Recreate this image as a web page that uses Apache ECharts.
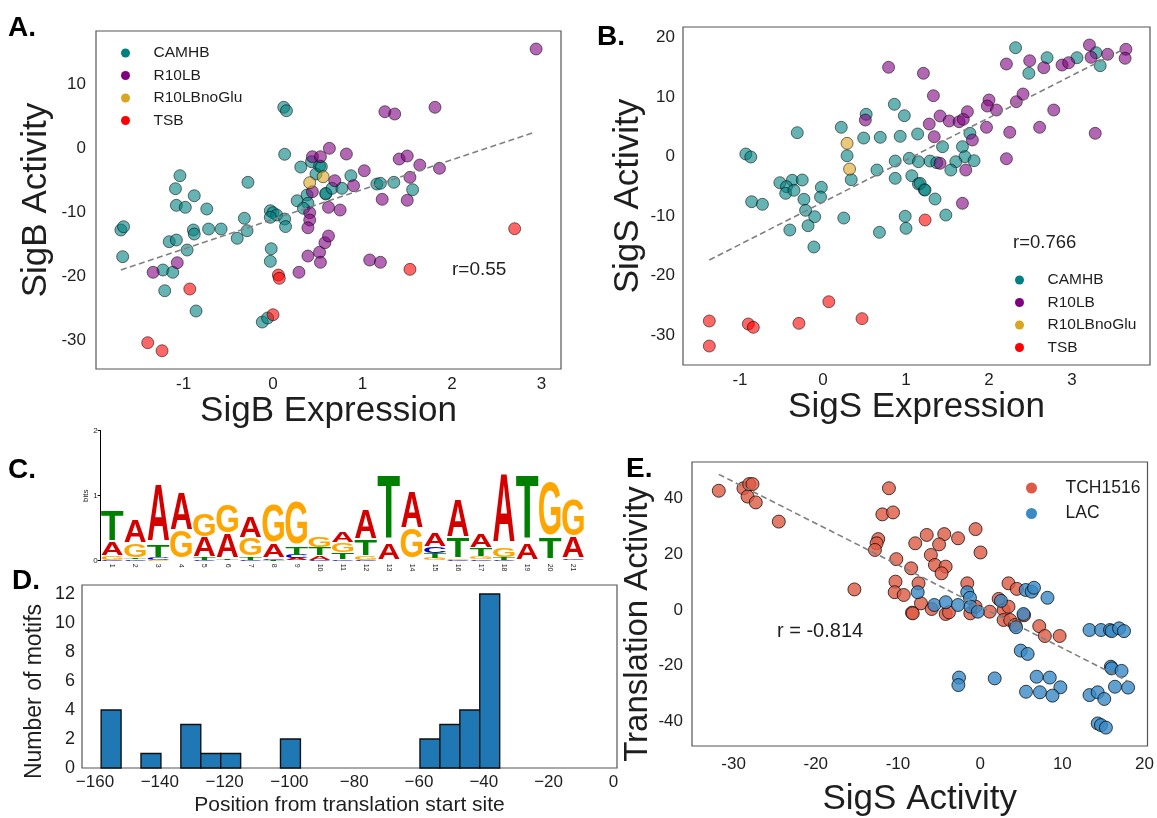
<!DOCTYPE html>
<html>
<head>
<meta charset="utf-8">
<script src="https://cdn.jsdelivr.net/npm/echarts@6/dist/echarts.min.js"></script>
<style>html,body{margin:0;padding:0;background:#fff}#c{width:1157px;height:818px}</style>
</head>
<body>
<div id="c"></div>
<script>
// ---------- Panel A: SigB Expression vs SigB Activity ----------
const A_CAMHB = [[0.12,6.44],[0.15,5.9],[0.13,-0.9],[0.31,-2.9],[0.43,-2.06],[0.52,-2.73],[0.48,-3.98],[-1.04,-4.25],[-1.09,-6.28],[-0.28,-5.28],[-0.88,-7.38],[-1.08,-8.88],[-0.98,-9.19],[-0.74,-9.45],[-0.03,-9.72],[0.0,-10.03],[0.04,-10.39],[-0.03,-10.75],[0.13,-11.02],[0.14,-12.2],[-0.32,-10.9],[-0.29,-12.84],[0.27,-8.16],[0.38,-7.27],[0.39,-8.56],[0.34,-9.34],[0.59,-7.11],[-1.70,-12.73],[-1.67,-12.22],[-1.68,-16.9],[-0.89,-12.73],[-0.88,-13.36],[-0.72,-12.58],[-0.58,-12.58],[-0.40,-14.03],[-1.16,-14.56],[-1.08,-14.3],[-0.96,-15.86],[-0.02,-15.66],[-0.03,-17.63],[-1.23,-18.98],[-1.12,-19.34],[-1.21,-22.22],[-0.86,-25.39],[-0.12,-27.11],[-0.06,-26.48],[0.87,-4.25],[0.54,-2.84],[0.59,-7.0],[0.66,-6.22],[0.77,-6.22],[1.16,-5.55],[1.20,-5.44],[1.35,-5.28],[1.56,-6.44]];
const A_R10LB = [[-1.34,-19.34],[-1.07,-17.84],[0.29,-19.34],[0.39,-16.8],[0.52,-16.2],[0.53,-17.78],[0.44,-1.28],[0.53,-1.28],[0.63,0.03],[0.41,-10.03],[0.41,-11.17],[0.39,-12.38],[0.62,-9.19],[0.58,-14.72],[0.62,-13.67],[0.44,-6.75],[2.94,15.55],[1.25,5.75],[1.36,5.39],[1.81,6.44],[0.82,-0.86],[1.41,-1.64],[1.50,-1.17],[1.64,-2.58],[1.86,-3.09],[1.02,-3.47],[0.69,-5.03],[0.90,-5.81],[1.53,-4.5],[1.22,-7.94],[1.50,-8.09],[0.75,-9.61],[1.08,-17.42],[1.20,-17.78]];
const A_R10LBnoGlu = [[0.41,-5.34],[0.56,-4.41]];
const A_TSB = [[0.06,-19.77],[0.07,-20.28],[-0.93,-21.95],[0.0,-25.97],[-1.40,-30.34],[-1.24,-31.6],[2.70,-12.53],[1.53,-18.88]];
const A_fit = [[-1.70,-18.98],[2.92,2.53]];
const A_xTicks = [-1,0,1,2,3];
const A_yTicks = [-30,-20,-10,0,10];

// ---------- Panel B: SigS Expression vs SigS Activity ----------
const B_CAMHB = [[-0.93,0.42],[-0.87,-0.08],[-0.31,4.0],[-0.52,-4.39],[-0.37,-3.99],[-0.25,-3.94],[-0.44,-5.06],[-0.45,-6.18],[-0.35,-5.67],[-0.86,-7.58],[-0.73,-8.02],[-0.23,-7.18],[-0.02,-5.17],[-0.03,-6.8],[-0.21,-9.03],[-0.10,-10.1],[-0.18,-11.61],[-0.40,-12.33],[-0.11,-15.18],[0.22,4.9],[0.29,0.13],[0.34,-3.89],[0.25,-10.32],[0.52,7.08],[0.49,3.1],[0.69,3.22],[0.65,-2.27],[0.68,-12.72],[0.86,8.76],[0.98,6.85],[0.93,3.39],[1.14,3.78],[0.87,-0.76],[1.04,-0.3],[1.15,-0.87],[0.87,-3.66],[1.07,-3.22],[1.15,-4.61],[1.22,-5.57],[0.99,-10.03],[1.0,-12.05],[2.32,18.26],[2.70,16.58],[2.48,13.96],[3.29,17.42],[3.34,15.24],[3.06,16.58],[1.77,3.89],[1.44,1.65],[1.68,1.65],[1.71,-0.03],[1.82,-0.7],[1.29,-0.76],[1.37,-1.03],[1.60,-0.87],[1.54,-2.27],[1.17,-4.5],[1.23,-5.62],[1.35,-7.13],[1.48,-9.82]];
const B_R10LB = [[0.79,14.97],[1.21,13.96],[0.51,6.12],[1.28,5.45],[2.21,15.52],[2.49,16.07],[2.66,14.9],[2.88,15.35],[2.96,15.74],[3.21,18.71],[3.23,16.64],[3.43,17.15],[3.65,17.99],[3.64,16.48],[1.33,10.2],[2.0,9.48],[1.98,8.47],[2.09,7.8],[2.33,9.2],[2.41,10.49],[2.78,7.8],[1.41,6.8],[1.52,5.96],[1.64,5.84],[1.69,6.24],[1.74,7.52],[1.97,4.9],[2.25,4.06],[2.61,4.9],[3.28,3.89],[1.34,3.32],[1.80,2.77],[1.41,-1.14],[1.72,-2.27],[2.21,-0.37],[1.68,-7.85]];
const B_R10LBnoGlu = [[0.29,2.21],[0.32,-2.1]];
const B_TSB = [[-1.37,-27.6],[-1.37,-31.8],[-0.90,-28.1],[-0.84,-28.66],[-0.29,-27.99],[0.07,-24.36],[0.47,-27.2],[1.23,-10.65]];
const B_fit = [[-1.37,-17.37],[3.62,17.99]];
const B_xTicks = [-1,0,1,2,3];
const B_yTicks = [-30,-20,-10,0,10,20];

// ---------- Panel C: sequence logo (bits per letter, positions 1..21) ----------
const logoPositions = ['1','2','3','4','5','6','7','8','9','10','11','12','13','14','15','16','17','18','19','20','21'];
const logoA = [0.21,0.35,0.87,0.56,0.30,0.37,0.33,0.21,0.03,0.06,0.16,0.44,0.25,0.54,0.20,0.56,0.20,1.06,0.25,0.00,0.32];
const logoC = [0.01,0.02,0.03,0.005,0.01,0.005,0.01,0.02,0.05,0.01,0.01,0.01,0.00,0.00,0.10,0.01,0.02,0.01,0.00,0.00,0.01];
const logoG = [0.05,0.20,0.01,0.41,0.35,0.42,0.27,0.57,0.66,0.16,0.15,0.05,0.00,0.45,0.03,0.01,0.04,0.14,0.00,0.81,0.54];
const logoT = [0.47,0.02,0.18,0.005,0.03,0.015,0.04,0.01,0.12,0.13,0.11,0.24,0.98,0.00,0.07,0.30,0.13,0.03,0.97,0.32,0.005];
const logoYTicks = [0,1,2];

// ---------- Panel D: histogram of motif positions ----------
const D_binEdges = [-158.1,-151.95,-145.8,-139.65,-133.5,-127.35,-121.2,-115.05,-108.9,-102.75,-96.6,-90.45,-84.3,-78.15,-72.0,-65.85,-59.7,-53.55,-47.4,-41.25,-35.1];
const D_counts = [4,0,1,0,3,1,1,0,0,2,0,0,0,0,0,0,2,3,4,12];
const D_xTicks = [-160,-140,-120,-100,-80,-60,-40,-20,0];
const D_yTicks = [0,2,4,6,8,10,12];

// ---------- Panel E: SigS Activity vs Translation Activity ----------
const E_TCH1516 = [[-31.8,42.9],[-28.8,43.8],[-28.1,45.3],[-27.7,45.3],[-28.3,40.8],[-27.3,38.7],[-24.5,31.8],[-11.1,43.8],[-11.9,34.4],[-10.6,35.1],[-12.4,25.5],[-12.6,24.0],[-12.8,21.6],[-10.2,18.3],[-8.4,15.0],[-7.9,24.0],[-15.3,7.4],[-10.3,10.2],[-10.4,6.4],[-9.3,5.4],[-8.3,-0.96],[-0.56,29.1],[0.04,20.7],[-2.69,25.8],[-4.37,27.3],[-6.5,27.0],[-5.0,23.6],[-6.0,19.8],[-5.5,16.2],[-4.2,15.6],[-4.7,13.2],[-7.5,9.6],[-1.57,9.6],[3.45,9.6],[4.46,7.6],[-7.2,2.4],[-5.9,0.36],[-8.2,-1.2],[-4.2,-1.44],[-3.8,-0.84],[-1.2,-1.2],[-0.56,1.2],[1.17,-0.6],[2.25,4.0],[2.85,0.0],[3.45,1.2],[2.85,-3.6],[3.65,-3.6],[5.34,-1.9],[4.25,-5.4],[7.19,-5.8],[7.87,-9.35],[9.67,-9.35]];
const E_LAC = [[-7.6,6.4],[-5.58,1.8],[-4.18,2.8],[-2.69,1.8],[-1.57,6.4],[-1.24,4.4],[-1.17,1.2],[-0.28,-0.6],[2.53,3.3],[5.27,-1.44],[4.37,-6.2],[5.54,7.2],[6.27,6.6],[6.55,8.0],[8.19,4.4],[4.94,-14.6],[5.78,-15.8],[-2.57,-24.3],[-2.65,-27.0],[1.77,-24.6],[6.87,-24.0],[8.47,-24.3],[9.76,-27.8],[5.58,-29.4],[7.27,-29.6],[8.8,-30.8],[13.3,-7.2],[14.7,-7.2],[15.8,-7.2],[16.0,-7.6],[16.9,-6.6],[17.5,-7.6],[15.9,-20.4],[16.0,-21.0],[17.2,-21.9],[16.4,-27.6],[18.0,-27.9],[13.3,-30.6],[14.3,-29.6],[15.1,-32.0],[14.3,-40.8],[14.7,-41.4],[15.3,-42.3]];
const E_fit = [[-31.8,48.8],[18.1,-25.8]];
const E_xTicks = [-30,-20,-10,0,10,20];
const E_yTicks = [-40,-20,0,20,40];

// ---------- styling ----------
const FONT = 'Liberation Sans, Arial, sans-serif';
const TXT = '#1e1e1e';
const COL = {CAMHB:'#008080', R10LB:'#800080', R10LBnoGlu:'#DAA520', TSB:'#FF0000', TCH1516:'#DD5A44', LAC:'#3A8AC6'};
const LOGOCOL = {A:'#D40000', C:'#0000C8', G:'#FFA500', T:'#008000'};
const LOGOW = {A:0.70, C:0.66, G:0.70, T:0.59};

const chart = echarts.init(document.getElementById('c'), null, {renderer:'canvas'});

function valAxis(grid, min, max, ticks, name, gap, labelMargin, opts) {
  opts = opts || {};
  const pad = opts.namePad || [0,0,0,0];
  const nfs = opts.nameSize || 35;
  delete opts.namePad; delete opts.nameSize;
  return Object.assign({
    type:'value', gridIndex:grid, min:min, max:max,
    axisLine:{show:false}, axisTick:{show:false}, splitLine:{show:false},
    axisLabel:{customValues:ticks, fontSize:17, color:TXT, fontFamily:FONT, margin:labelMargin},
    name:name, nameLocation:'middle', nameGap:gap,
    nameTextStyle:{fontSize:nfs, color:TXT, fontFamily:FONT, padding:pad}
  }, opts);
}

function scatter(name, data, xi, size, opacity) {
  return {type:'scatter', name:name, data:data, xAxisIndex:xi, yAxisIndex:xi,
    symbolSize:size, itemStyle:{color:COL[name], opacity:opacity, borderColor:'#000', borderWidth:0.9},
    emphasis:{disabled:true}, z:2};
}
function fitLine(data, xi) {
  return {type:'line', data:data, xAxisIndex:xi, yAxisIndex:xi, symbol:'none', silent:true,
    lineStyle:{color:'#808080', width:1.6, type:[6,3.5]}, z:5};
}

// logo letter items (stacked, smallest at bottom)
const logoItems = [];
logoPositions.forEach((p, i) => {
  const stack = [['A',logoA[i]],['C',logoC[i]],['G',logoG[i]],['T',logoT[i]]].sort((a,b)=>a[1]-b[1]);
  let y = 0;
  stack.forEach(([L,h]) => { logoItems.push([i, y, y+h, 'ACGT'.indexOf(L)]); y += h; });
});

// histogram items
const histItems = D_counts.map((c,i)=>[D_binEdges[i], D_binEdges[i+1], c]).filter(d=>d[2]>0);

function legend(names, left, top, fs, gap, iw, ih, textPadLeft) {
  return {data:names, left:left, top:top, orient:'vertical', icon:'circle', selectedMode:false,
    itemWidth:iw, itemHeight:ih, itemGap:gap,
    itemStyle:{opacity:1, borderWidth:0},
    textStyle:{fontSize:fs, color:TXT, fontFamily:FONT, padding:[0,0,0,textPadLeft]}};
}

const option = {
  animation:false,
  backgroundColor:'#ffffff',
  textStyle:{fontFamily:FONT},
  grid:[
    {left:96, top:31, width:465, height:338, show:true, borderColor:'#555', borderWidth:1.2},
    {left:683, top:27, width:467, height:338, show:true, borderColor:'#555', borderWidth:1.2},
    {left:100.7, top:430.7, width:484, height:130, show:false},
    {left:82, top:585, width:535, height:183, show:true, borderColor:'#555', borderWidth:1.2},
    {left:692, top:462, width:460, height:284, show:true, borderColor:'#555', borderWidth:1.2}
  ],
  xAxis:[
    valAxis(0, -1.978, 3.218, A_xTicks, 'SigB Expression', 24, 7),
    valAxis(1, -1.687, 3.94, B_xTicks, 'SigS Expression', 25, 7),
    {type:'category', gridIndex:2, data:logoPositions, boundaryGap:true,
      axisLine:{show:false}, axisTick:{show:false}, splitLine:{show:false},
      axisLabel:{rotate:-90, fontSize:7, color:TXT, margin:3, fontFamily:FONT, interval:0}},
    {type:'value', gridIndex:3, min:-164.01, max:1.11,
      axisLine:{show:false}, axisTick:{show:false}, splitLine:{show:false},
      axisLabel:{customValues:D_xTicks, fontSize:17, color:TXT, fontFamily:FONT, margin:6,
        formatter:v=>String(v).replace('-','\u2212')},
      name:'Position from translation start site', nameLocation:'middle', nameGap:27,
      nameTextStyle:{fontSize:21, color:TXT, fontFamily:FONT}},
    valAxis(4, -35.06, 20.36, E_xTicks, 'SigS Activity', 36, 10)
  ],
  yAxis:[
    valAxis(0, -34.45, 18.36, A_yTicks, 'SigB Activity', 42, 10, {nameRotate:90}),
    valAxis(1, -34.98, 21.73, B_yTicks, 'SigS Activity', 37, 8, {nameRotate:90}),
    {type:'value', gridIndex:2, min:0, max:2,
      axisLine:{show:true, lineStyle:{color:'#000', width:1}},
      axisTick:{show:true, customValues:logoYTicks, length:3, lineStyle:{color:'#000'}},
      splitLine:{show:false},
      axisLabel:{customValues:logoYTicks, fontSize:8, color:TXT, margin:3, fontFamily:FONT},
      name:'bits', nameLocation:'middle', nameGap:11, nameRotate:90,
      nameTextStyle:{fontSize:8, color:TXT, fontFamily:FONT}},
    {type:'value', gridIndex:3, min:0, max:12.62,
      axisLine:{show:false}, axisTick:{show:false}, splitLine:{show:false},
      axisLabel:{customValues:D_yTicks, fontSize:18, color:TXT, fontFamily:FONT, margin:7},
      name:'Number of motifs', nameLocation:'middle', nameGap:36, nameRotate:90,
      nameTextStyle:{fontSize:23, color:TXT, fontFamily:FONT, padding:[0,30,0,0]}},
    valAxis(4, -48.92, 53.24, E_yTicks, 'Translation Activity', 22, 9, {nameRotate:90, nameSize:33, namePad:[0,40,0,0]})
  ],
  legend:[
    legend(['CAMHB','R10LB','R10LBnoGlu','TSB'], 116, 40, 15.5, 6.5, 46, 9, 0),
    legend(['CAMHB','R10LB','R10LBnoGlu','TSB'], 1010, 267, 15.5, 6.5, 46, 9, 0),
    legend(['TCH1516','LAC'], 1021, 474, 17.5, 7.5, 50, 11, 4)
  ],
  graphic:[
    {type:'text', left:8, top:14, style:{text:'A.', fontSize:28, fontWeight:'bold', fill:'#000', fontFamily:FONT}},
    {type:'text', left:597, top:23, style:{text:'B.', fontSize:28, fontWeight:'bold', fill:'#000', fontFamily:FONT}},
    {type:'text', left:8, top:456, style:{text:'C.', fontSize:28, fontWeight:'bold', fill:'#000', fontFamily:FONT}},
    {type:'text', left:12, top:567, style:{text:'D.', fontSize:28, fontWeight:'bold', fill:'#000', fontFamily:FONT}},
    {type:'text', left:626, top:455, style:{text:'E.', fontSize:28, fontWeight:'bold', fill:'#000', fontFamily:FONT}},
    {type:'text', left:452, top:260, style:{text:'r=0.55', fontSize:19, fill:TXT, fontFamily:FONT}},
    {type:'text', left:1013, top:233, style:{text:'r=0.766', fontSize:18.5, fill:TXT, fontFamily:FONT}},
    {type:'text', left:777, top:621, style:{text:'r = -0.814', fontSize:20, fill:TXT, fontFamily:FONT}}
  ],
  series:[
    scatter('CAMHB', A_CAMHB, 0, 12, 0.6),
    scatter('R10LB', A_R10LB, 0, 12, 0.6),
    scatter('R10LBnoGlu', A_R10LBnoGlu, 0, 12, 0.6),
    scatter('TSB', A_TSB, 0, 12, 0.6),
    fitLine(A_fit, 0),
    scatter('CAMHB', B_CAMHB, 1, 12, 0.6),
    scatter('R10LB', B_R10LB, 1, 12, 0.6),
    scatter('R10LBnoGlu', B_R10LBnoGlu, 1, 12, 0.6),
    scatter('TSB', B_TSB, 1, 12, 0.6),
    fitLine(B_fit, 1),
    {type:'custom', xAxisIndex:2, yAxisIndex:2, data:logoItems, silent:true,
      renderItem:function(params, api){
        const i = api.value(0), y0 = api.value(1), y1 = api.value(2), L = 'ACGT'[api.value(3)];
        const p0 = api.coord([i, y0]), p1 = api.coord([i, y1]);
        const h = p0[1] - p1[1];
        if (h < 0.4) return null;
        const bw = api.size([1, 0])[0] * 0.96;
        const S = 100;
        return {type:'text', x:p0[0], y:(p0[1]+p1[1])/2,
          scaleX: bw/(LOGOW[L]*S), scaleY: h/(0.716*S),
          style:{text:L, fontSize:S, fontWeight:'bold', fontFamily:FONT, fill:LOGOCOL[L], align:'center', verticalAlign:'middle'}};
      }},
    {type:'custom', xAxisIndex:3, yAxisIndex:3, data:histItems, silent:true,
      renderItem:function(params, api){
        const a = api.coord([api.value(0), api.value(2)]);
        const b = api.coord([api.value(1), 0]);
        return {type:'rect', shape:{x:a[0], y:a[1], width:b[0]-a[0], height:b[1]-a[1]},
          style:{fill:'#1F77B4', stroke:'#111', lineWidth:1.4}};
      }},
    scatter('TCH1516', E_TCH1516, 4, 13, 0.8),
    scatter('LAC', E_LAC, 4, 13, 0.8),
    fitLine(E_fit, 4)
  ]
};
chart.setOption(option);
</script>
</body>
</html>
